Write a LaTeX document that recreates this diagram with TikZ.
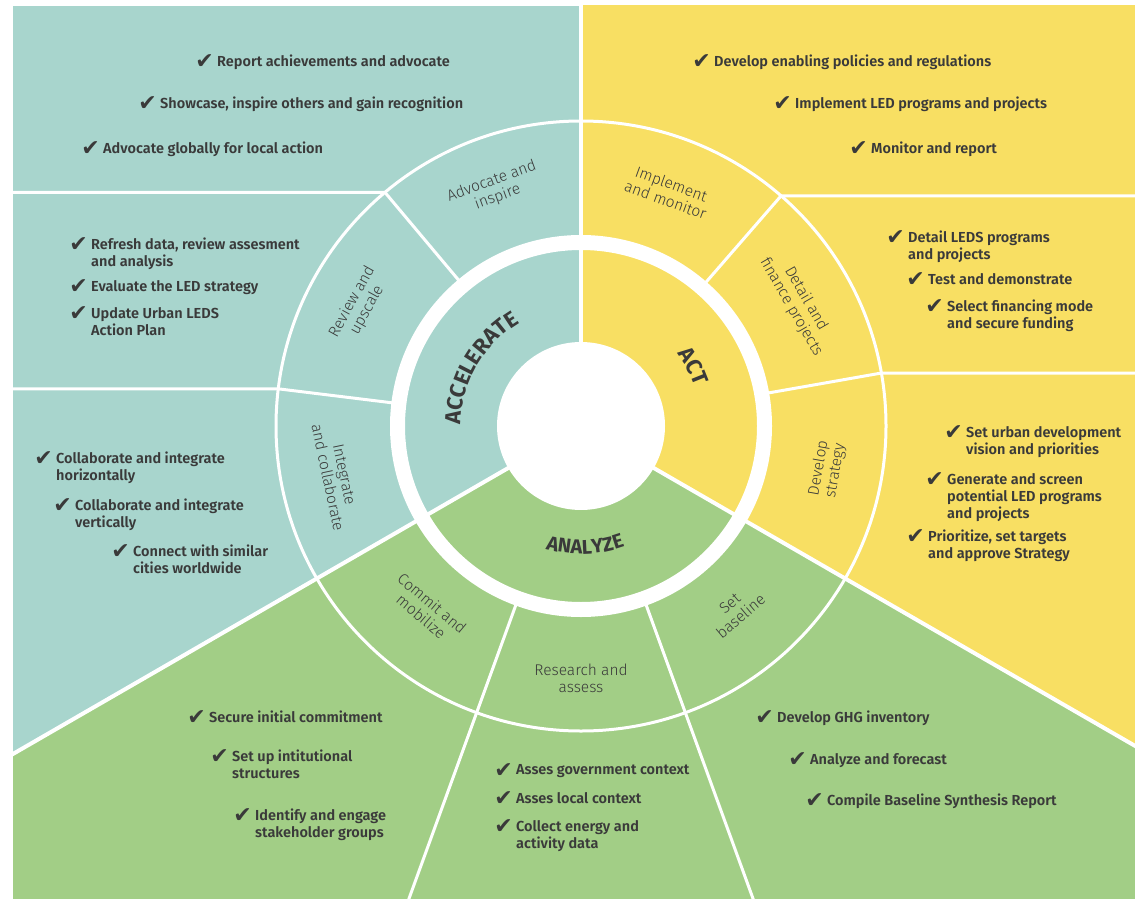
\documentclass[tikz,border=0pt]{standalone}
\usepackage{fontspec}
\setmainfont{Fira Sans}
\newfontfamily\itemfont{Fira Sans SemiBold}
\newfontfamily\segfont{Fira Sans Light}
\newfontfamily\headfont{Fira Sans Bold}
\newfontfamily\symfont{DejaVu Sans}
\usepackage{xcolor}
\usepackage{tikz}
\usetikzlibrary{positioning,calc,decorations.text}
\definecolor{tealbg}{HTML}{A8D5CD}
\definecolor{yelbg}{HTML}{F8DF63}
\definecolor{grnbg}{HTML}{A2CE86}
\definecolor{ink}{HTML}{3A3A3A}

\begin{document}
\begin{tikzpicture}[
    x=1pt, y=1pt,
    wline/.style={draw=white, line width=3pt},
    seg/.style={font=\segfont\fontsize{15.5}{17}\selectfont, text=ink, align=center, inner sep=0pt},
    item/.style={font=\itemfont\fontsize{14.5}{17}\selectfont, text=ink, align=left, anchor=north west, inner sep=0pt},
    chk/.style={font=\symfont\fontsize{22}{22}\selectfont, text=ink, inner sep=0pt},
    big/.style={decorate, decoration={text along path, text align=center, text color=ink}}
]
    \useasboundingbox (0,0) rectangle (1135,-899);

    \begin{scope}
        \clip (13,-6) rectangle (1135,-899);
        \fill[tealbg] (13,-6) rectangle (1135,-899);
        \begin{scope}[shift={(581,-426)}]
            \fill[yelbg] (0,0) -- (90:1000) -- ++(1000,0) -- (-30:1400) -- cycle;
            \fill[grnbg] (0,0) -- (210:1400) -- (330:1400) -- cycle;

            \draw[wline, line width=4pt] (0,0) -- (90:700);
            \draw[wline, line width=4pt] (0,0) -- (210:1000);
            \draw[wline, line width=4pt] (0,0) -- (330:1000);

            \draw[wline] (130:180) -- (130:305) -- ++(-700,0);
            \draw[wline] (173:180) -- (173:305) -- ++(-700,0);
            \draw[wline] (49:180) -- (49:305) -- ++(700,0);
            \draw[wline] (10:180) -- (10:305) -- ++(700,0);
            \draw[wline] (250:180) -- (250:700);
            \draw[wline] (290:180) -- (290:700);

            \draw[wline] (0,0) circle (305);
            \draw[white, line width=15pt] (0,0) circle (183.5);
            \fill[white] (0,0) circle (84);
        \end{scope}
    \end{scope}

    \begin{scope}[shift={(581,-426)}]
        \node[seg, rotate=20] (adv) at (110:252) {Advocate and\\inspire};
        \node[seg, rotate=61] (rev) at (151.5:252) {Review and\\upscale};
        \node[seg, rotate=-78] (itg) at (191.5:250) {Integrate\\and collaborate};
        \node[seg, rotate=-20] (imp) at (69.5:250) {Implement\\and monitor};
        \node[seg, rotate=-60] (det) at (29.5:250) {Detail and\\finance projects};
        \node[seg, rotate=80] (dvs) at (-10:250) {Develop\\strategy};
        \node[seg, rotate=-40] (com) at (230:240) {Commit and\\mobilize};
        \node[seg] (res) at (270:252) {Research and\\assess};
        \node[seg, rotate=40] (stb) at (310:240) {Set\\baseline};

        \path[big, decoration={text={|\headfont\fontsize{22}{22}\selectfont|ACCELERATE}}]
            (198:120) arc[start angle=198, end angle=102, radius=120];
        \path[big, decoration={text={|\headfont\fontsize{22}{22}\selectfont|ACT}}]
            (46:120) arc[start angle=46, end angle=10, radius=120];
        \path[big, decoration={text={|\headfont\fontsize{20}{20}\selectfont|ANALYZE}}]
            (238:128) arc[start angle=238, end angle=306, radius=128];
    \end{scope}

    \node[item] (a1) at (217,-55) {Report achievements and advocate};
    \node[item] (a2) at (160,-97) {Showcase, inspire others and gain recognition};
    \node[item] (a3) at (103,-142) {Advocate globally for local action};
    \node[item] (r1) at (91,-238) {Refresh data, review assesment\\and analysis};
    \node[item] (r2) at (91,-280) {Evaluate the LED strategy};
    \node[item] (r3) at (91,-307) {Update Urban LEDS\\Action Plan};
    \node[item] (i1) at (56,-452) {Collaborate and integrate\\horizontally};
    \node[item] (i2) at (75,-499) {Collaborate and integrate\\vertically};
    \node[item] (i3) at (133,-545) {Connect with similar\\cities worldwide};

    \node[item] (c1) at (209,-711) {Secure initial commitment};
    \node[item] (c2) at (232,-750) {Set up intitutional\\structures};
    \node[item] (c3) at (255,-809) {Identify and engage\\stakeholder groups};
    \node[item] (s1) at (516,-764) {Asses government context};
    \node[item] (s2) at (516,-792) {Asses local context};
    \node[item] (s3) at (516,-820) {Collect energy and\\activity data};
    \node[item] (b1) at (777,-711) {Develop GHG inventory};
    \node[item] (b2) at (810,-753) {Analyze and forecast};
    \node[item] (b3) at (827,-794) {Compile Baseline Synthesis Report};

    \node[item] (m1) at (714,-55) {Develop enabling policies and regulations};
    \node[item] (m2) at (795,-97) {Implement LED programs and projects};
    \node[item] (m3) at (871,-142) {Monitor and report};
    \node[item] (f1) at (908,-231) {Detail LEDS programs\\and projects};
    \node[item] (f2) at (928,-273) {Test and demonstrate};
    \node[item] (f3) at (947,-300) {Select financing mode\\and secure funding};
    \node[item] (d1) at (966,-426) {Set urban development\\vision and priorities};
    \node[item] (d2) at (947,-473) {Generate and screen\\potential LED programs\\and projects};
    \node[item] (d3) at (928,-530) {Prioritize, set targets\\and approve Strategy};

    \node[chk, left=3pt of a1.north west, yshift=-7pt] (a1c) {✔};
    \node[chk, left=3pt of a2.north west, yshift=-7pt] (a2c) {✔};
    \node[chk, left=3pt of a3.north west, yshift=-7pt] (a3c) {✔};
    \node[chk, left=3pt of r1.north west, yshift=-7pt] (r1c) {✔};
    \node[chk, left=3pt of r2.north west, yshift=-7pt] (r2c) {✔};
    \node[chk, left=3pt of r3.north west, yshift=-7pt] (r3c) {✔};
    \node[chk, left=3pt of i1.north west, yshift=-7pt] (i1c) {✔};
    \node[chk, left=3pt of i2.north west, yshift=-7pt] (i2c) {✔};
    \node[chk, left=3pt of i3.north west, yshift=-7pt] (i3c) {✔};
    \node[chk, left=3pt of c1.north west, yshift=-7pt] (c1c) {✔};
    \node[chk, left=3pt of c2.north west, yshift=-7pt] (c2c) {✔};
    \node[chk, left=3pt of c3.north west, yshift=-7pt] (c3c) {✔};
    \node[chk, left=3pt of s1.north west, yshift=-7pt] (s1c) {✔};
    \node[chk, left=3pt of s2.north west, yshift=-7pt] (s2c) {✔};
    \node[chk, left=3pt of s3.north west, yshift=-7pt] (s3c) {✔};
    \node[chk, left=3pt of b1.north west, yshift=-7pt] (b1c) {✔};
    \node[chk, left=3pt of b2.north west, yshift=-7pt] (b2c) {✔};
    \node[chk, left=3pt of b3.north west, yshift=-7pt] (b3c) {✔};
    \node[chk, left=3pt of m1.north west, yshift=-7pt] (m1c) {✔};
    \node[chk, left=3pt of m2.north west, yshift=-7pt] (m2c) {✔};
    \node[chk, left=3pt of m3.north west, yshift=-7pt] (m3c) {✔};
    \node[chk, left=3pt of f1.north west, yshift=-7pt] (f1c) {✔};
    \node[chk, left=3pt of f2.north west, yshift=-7pt] (f2c) {✔};
    \node[chk, left=3pt of f3.north west, yshift=-7pt] (f3c) {✔};
    \node[chk, left=3pt of d1.north west, yshift=-7pt] (d1c) {✔};
    \node[chk, left=3pt of d2.north west, yshift=-7pt] (d2c) {✔};
    \node[chk, left=3pt of d3.north west, yshift=-7pt] (d3c) {✔};
\end{tikzpicture}
\end{document}
